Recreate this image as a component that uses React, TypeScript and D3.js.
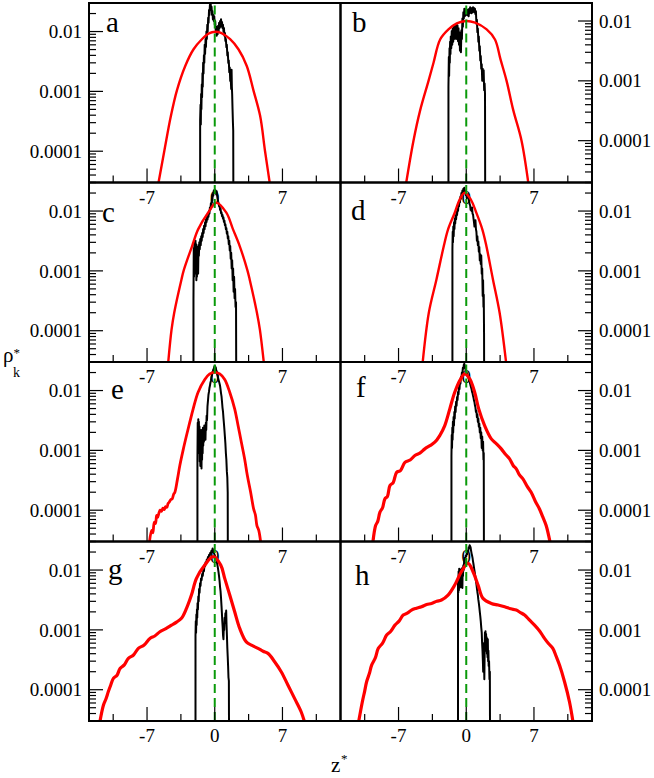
import React from 'react';
import * as d3 from 'd3';

type Pt = [number, number];

// ---------- axis definitions ----------
const xDomain: [number, number] = [-13, 13];
const xTickMajor = [-7, 0, 7];
const xTickMinor = [-10.5, -3.5, 3.5, 10.5];
const yTickLabelled = [0.0001, 0.001, 0.01];
const yTickText = ['0.0001', '0.001', '0.01'];
const yDomainMain: [number, number] = [3e-5, 3e-2];
const yDomainB: [number, number] = [2e-5, 2e-2];
const panelLetters = ['a', 'b', 'c', 'd', 'e', 'f', 'g', 'h'];

// ---------- data: [z*, rho*_k] ----------
const blackA: Pt[] = [[-1.51,1e-6],[-1.51,3.4e-4],[-1.47,6e-4],[-1.44,2.8e-4],[-1.41,9e-4],[-1.38,5e-4],[-1.34,1.3e-3],[-1.31,8e-4],[-1.27,2e-3],[-1.24,1.2e-3],[-1.2,3e-3],[-1.16,2e-3],[-1.12,4e-3],[-1.08,3e-3],[-1.04,6e-3],[-1.0,4.2e-3],[-0.95,7.5e-3],[-0.91,5.5e-3],[-0.86,1e-2],[-0.82,7.5e-3],[-0.77,1.3e-2],[-0.73,1e-2],[-0.68,1.7e-2],[-0.64,1.4e-2],[-0.59,2.3e-2],[-0.55,1.9e-2],[-0.5,2.8e-2],[-0.46,2.4e-2],[-0.42,2.9e-2],[-0.37,2.3e-2],[-0.33,2.6e-2],[-0.28,1.9e-2],[-0.24,2.2e-2],[-0.19,1.6e-2],[-0.14,1.9e-2],[-0.1,1.5e-2],[-0.05,1.8e-2],[0,1.3e-2],[0.05,1.5e-2],[0.1,1.05e-2],[0.15,1.2e-2],[0.2,8.5e-3],[0.25,1.1e-2],[0.3,9e-3],[0.35,1.25e-2],[0.4,1e-2],[0.45,1.4e-2],[0.5,1.15e-2],[0.55,1.5e-2],[0.6,1.2e-2],[0.65,1.6e-2],[0.7,1.25e-2],[0.75,1.45e-2],[0.8,1.15e-2],[0.85,1.3e-2],[0.9,1e-2],[0.95,1.15e-2],[1.0,8.5e-3],[1.05,9.5e-3],[1.1,7e-3],[1.15,7.5e-3],[1.2,5.5e-3],[1.25,6e-3],[1.3,4e-3],[1.35,4.5e-3],[1.4,3e-3],[1.45,3.3e-3],[1.5,2.1e-3],[1.55,2.5e-3],[1.6,1.5e-3],[1.65,1.7e-3],[1.7,1.1e-3],[1.74,2.3e-3],[1.77,1.2e-3],[1.8,9e-4],[1.84,5e-4],[1.88,3e-4],[1.91,2.2e-4],[1.94,1e-6]];
const redA: Pt[] = [[-5.9,2.5e-5],[-5.22,1e-4],[-4.53,3.9e-4],[-3.91,1.04e-3],[-3.05,2.66e-3],[-2.19,5.06e-3],[-1.33,7.44e-3],[-0.6,9.3e-3],[0.04,9.9e-3],[0.7,9.4e-3],[1.59,7.44e-3],[2.45,5.06e-3],[3.31,2.66e-3],[4.0,1.04e-3],[4.69,3.9e-4],[5.2,1e-4],[5.75,2.5e-5]];

const blackB: Pt[] = [[-1.84,1e-6],[-1.84,8e-4],[-1.8,2.5e-3],[-1.77,1.2e-3],[-1.73,3.5e-3],[-1.7,2.0e-3],[-1.67,4.5e-3],[-1.63,2.8e-3],[-1.6,5.5e-3],[-1.55,3.5e-3],[-1.5,6.8e-3],[-1.45,4.0e-3],[-1.4,7.5e-3],[-1.35,4.5e-3],[-1.3,8e-3],[-1.25,5e-3],[-1.2,8.5e-3],[-1.15,5.5e-3],[-1.1,8.2e-3],[-1.05,5.0e-3],[-1.0,8.8e-3],[-0.95,5.5e-3],[-0.9,8.4e-3],[-0.85,4.6e-3],[-0.8,7.6e-3],[-0.75,4.0e-3],[-0.7,6.5e-3],[-0.65,3.2e-3],[-0.6,5.5e-3],[-0.55,3.0e-3],[-0.5,7e-3],[-0.45,5e-3],[-0.4,1.1e-2],[-0.35,8e-3],[-0.3,1.4e-2],[-0.25,1.1e-2],[-0.2,1.6e-2],[-0.15,1.2e-2],[-0.1,1.5e-2],[-0.05,1.25e-2],[0,1.6e-2],[0.05,1.3e-2],[0.1,1.55e-2],[0.15,1.25e-2],[0.2,1.4e-2],[0.25,1.2e-2],[0.3,1.6e-2],[0.35,1.35e-2],[0.4,1.7e-2],[0.45,1.4e-2],[0.5,1.6e-2],[0.55,1.35e-2],[0.6,1.65e-2],[0.65,1.4e-2],[0.7,1.7e-2],[0.75,1.45e-2],[0.8,1.65e-2],[0.85,1.4e-2],[0.9,1.6e-2],[0.95,1.3e-2],[1.0,1.45e-2],[1.05,9e-3],[1.1,1.05e-2],[1.15,6.5e-3],[1.2,7.5e-3],[1.25,4.5e-3],[1.3,5.5e-3],[1.35,3.2e-3],[1.4,3.8e-3],[1.45,2.2e-3],[1.5,2.6e-3],[1.55,1.6e-3],[1.6,1.9e-3],[1.65,1.0e-3],[1.7,1.6e-3],[1.75,1.1e-3],[1.8,1.5e-3],[1.85,7e-4],[1.9,9e-4],[1.94,6e-4],[1.97,1e-6]];
const redB: Pt[] = [[-6.25,1.8e-5],[-5.45,1.01e-4],[-4.76,3.24e-4],[-3.9,1e-3],[-3.39,1.99e-3],[-2.7,4.91e-3],[-1.84,7.24e-3],[-0.98,9.14e-3],[-0.02,1e-2],[0.91,9.4e-3],[2.11,7.24e-3],[2.97,4.91e-3],[3.55,2.26e-3],[4.17,1e-3],[4.86,3.24e-4],[5.71,1.01e-4],[6.45,1.8e-5]];

const blackC: Pt[] = [[-2.2,1e-6],[-2.2,3.3e-4],[-2.17,2.4e-3],[-2.14,8e-4],[-2.11,3e-3],[-2.08,1e-3],[-2.05,2.6e-3],[-2.02,9e-4],[-1.99,3.2e-3],[-1.96,1.2e-3],[-1.93,2.8e-3],[-1.9,7e-4],[-1.87,2.2e-3],[-1.84,8e-4],[-1.81,2.5e-3],[-1.78,1.1e-3],[-1.75,2.3e-3],[-1.72,9e-4],[-1.68,2.7e-3],[-1.64,1.8e-3],[-1.6,3e-3],[-1.55,2.3e-3],[-1.5,3.4e-3],[-1.45,2.7e-3],[-1.4,3.8e-3],[-1.35,3.2e-3],[-1.3,4.3e-3],[-1.25,3.7e-3],[-1.2,5e-3],[-1.15,4.3e-3],[-1.1,5.7e-3],[-1.05,5e-3],[-1.0,6.5e-3],[-0.95,5.6e-3],[-0.9,7.3e-3],[-0.85,6.5e-3],[-0.8,8e-3],[-0.75,7.2e-3],[-0.7,8.8e-3],[-0.65,8e-3],[-0.6,1e-2],[-0.55,9e-3],[-0.5,1.15e-2],[-0.45,1.05e-2],[-0.4,1.35e-2],[-0.35,1.25e-2],[-0.3,1.6e-2],[-0.25,1.5e-2],[-0.2,1.9e-2],[-0.15,1.8e-2],[-0.1,2.2e-2],[-0.05,2e-2],[0,2.3e-2],[0.05,2e-2],[0.1,2.2e-2],[0.15,1.9e-2],[0.2,2.15e-2],[0.25,1.8e-2],[0.3,1.6e-2],[0.35,1.45e-2],[0.4,1.35e-2],[0.45,1.2e-2],[0.5,1.25e-2],[0.55,1.05e-2],[0.6,1.1e-2],[0.65,9.2e-3],[0.7,9.5e-3],[0.75,8.2e-3],[0.8,8.6e-3],[0.85,7.5e-3],[0.9,7.8e-3],[0.95,6.6e-3],[1.0,6.9e-3],[1.05,5.8e-3],[1.1,6e-3],[1.15,5e-3],[1.2,5.2e-3],[1.25,4.2e-3],[1.3,4.5e-3],[1.35,3.5e-3],[1.4,3.8e-3],[1.45,2.8e-3],[1.5,3.2e-3],[1.55,2.2e-3],[1.6,2.6e-3],[1.65,1.6e-3],[1.7,2e-3],[1.75,1.1e-3],[1.8,1.5e-3],[1.85,7e-4],[1.9,1.1e-3],[1.95,4.5e-4],[2.0,8e-4],[2.05,3.5e-4],[2.1,5e-4],[2.15,2.5e-4],[2.2,3e-4],[2.24,1e-6]];
const redC: Pt[] = [[-4.85,2.5e-5],[-4.47,1.03e-4],[-4.19,2e-4],[-3.44,7.2e-4],[-3.2,1.03e-3],[-2.34,2.6e-3],[-1.72,4.94e-3],[-0.69,9.38e-3],[0.17,1.38e-2],[1.2,9.38e-3],[1.89,4.94e-3],[2.58,2.6e-3],[3.37,1.03e-3],[3.61,7.2e-4],[4.36,2e-4],[4.67,1.03e-4],[5.12,2.5e-5]];

const blackD: Pt[] = [[-1.43,1e-6],[-1.43,2.3e-3],[-1.4,4.5e-3],[-1.37,3e-3],[-1.34,5.5e-3],[-1.3,3.8e-3],[-1.26,6.5e-3],[-1.22,5e-3],[-1.18,7.5e-3],[-1.14,6.2e-3],[-1.1,8.5e-3],[-1.05,7.3e-3],[-1.0,9.8e-3],[-0.95,8.6e-3],[-0.9,1.1e-2],[-0.85,1e-2],[-0.8,1.3e-2],[-0.75,1.2e-2],[-0.7,1.5e-2],[-0.65,1.4e-2],[-0.6,1.75e-2],[-0.55,1.6e-2],[-0.5,2e-2],[-0.45,1.85e-2],[-0.4,2.2e-2],[-0.35,2.05e-2],[-0.3,2.35e-2],[-0.25,2.2e-2],[-0.2,2.45e-2],[-0.15,2.1e-2],[-0.1,2.2e-2],[-0.05,1.85e-2],[0,1.95e-2],[0.05,1.65e-2],[0.1,1.8e-2],[0.15,1.75e-2],[0.2,1.9e-2],[0.25,1.55e-2],[0.3,1.5e-2],[0.35,1.3e-2],[0.4,1.25e-2],[0.45,1.05e-2],[0.5,1.1e-2],[0.55,1e-2],[0.6,1.15e-2],[0.65,9e-3],[0.7,8.8e-3],[0.75,7.5e-3],[0.8,6.5e-3],[0.85,5.5e-3],[0.9,6.5e-3],[0.95,7e-3],[1.0,5e-3],[1.05,4.5e-3],[1.1,3.2e-3],[1.15,3.8e-3],[1.2,2.7e-3],[1.25,3.1e-3],[1.3,2.1e-3],[1.35,2.5e-3],[1.4,1.5e-3],[1.45,1.9e-3],[1.5,1.3e-3],[1.55,1.8e-3],[1.6,9e-4],[1.65,1.1e-3],[1.7,3.8e-4],[1.74,7e-4],[1.78,2.5e-4],[1.81,4e-4],[1.84,9e-5],[1.87,1e-6]];
const redD: Pt[] = [[-4.55,2.5e-5],[-3.87,2e-4],[-3.08,7.2e-4],[-2.32,2.6e-3],[-1.88,4.94e-3],[-1.19,9.38e-3],[-0.67,1.57e-2],[-0.16,2.02e-2],[0.46,1.57e-2],[1.04,9.38e-3],[1.66,4.94e-3],[2.08,2.6e-3],[2.76,7.2e-4],[3.45,2e-4],[4.17,2.5e-5]];

const blackE: Pt[] = [[-1.79,1e-6],[-1.79,7e-4],[-1.76,2.9e-3],[-1.73,1.2e-3],[-1.7,3.3e-3],[-1.67,1.5e-3],[-1.64,3e-3],[-1.61,9e-4],[-1.58,2.5e-3],[-1.55,6.5e-4],[-1.52,2e-3],[-1.49,5.5e-4],[-1.46,1.8e-3],[-1.43,6e-4],[-1.4,2.2e-3],[-1.37,5e-4],[-1.34,1.9e-3],[-1.31,7e-4],[-1.28,2.1e-3],[-1.25,9e-4],[-1.22,2.4e-3],[-1.19,1.2e-3],[-1.16,2.2e-3],[-1.12,1.4e-3],[-1.08,2.6e-3],[-1.04,1.7e-3],[-1.0,2.3e-3],[-0.96,1.5e-3],[-0.92,2.9e-3],[-0.88,2.2e-3],[-0.84,3.8e-3],[-0.8,3.2e-3],[-0.75,5.5e-3],[-0.7,6.8e-3],[-0.65,8.5e-3],[-0.6,9.5e-3],[-0.55,1.1e-2],[-0.5,1.2e-2],[-0.45,1.35e-2],[-0.4,1.45e-2],[-0.35,1.65e-2],[-0.3,1.75e-2],[-0.25,1.95e-2],[-0.2,2.05e-2],[-0.15,2.25e-2],[-0.1,2.3e-2],[-0.05,2.5e-2],[0,2.6e-2],[0.05,2.4e-2],[0.1,2.45e-2],[0.15,2.2e-2],[0.2,2.1e-2],[0.25,1.85e-2],[0.3,1.75e-2],[0.35,1.6e-2],[0.4,1.5e-2],[0.45,1.4e-2],[0.5,1.3e-2],[0.55,1.2e-2],[0.6,1.05e-2],[0.65,9e-3],[0.7,8e-3],[0.75,6.5e-3],[0.8,5.2e-3],[0.85,4.5e-3],[0.9,3.5e-3],[0.95,2.8e-3],[1.0,2.2e-3],[1.05,1.7e-3],[1.1,1.3e-3],[1.15,9e-4],[1.2,7e-4],[1.25,4.5e-4],[1.3,3.5e-4],[1.34,2e-4],[1.37,1e-6]];
const redE: Pt[] = [[-6.8,2.5e-5],[-6.53,4.6e-5],[-6.4,4.2e-5],[-6.25,6.3e-5],[-6.12,6.0e-5],[-6.01,8.2e-5],[-5.9,7.6e-5],[-5.77,9.0e-5],[-5.64,1.0e-4],[-5.5,9.6e-5],[-5.36,1.08e-4],[-5.22,1.02e-4],[-5.08,1.15e-4],[-4.95,1.12e-4],[-4.82,1.3e-4],[-4.71,1.36e-4],[-4.55,1.5e-4],[-4.4,1.55e-4],[-4.25,1.85e-4],[-4.12,2e-4],[-3.85,3.34e-4],[-3.61,5.58e-4],[-3.26,1.03e-3],[-2.92,1.77e-3],[-2.58,2.96e-3],[-2.23,4.94e-3],[-1.72,9.38e-3],[-1.03,1.53e-2],[-0.52,1.9e-2],[0,2.02e-2],[0.52,1.9e-2],[1.03,1.53e-2],[1.55,9.38e-3],[2.06,4.94e-3],[2.41,2.6e-3],[2.75,1.37e-3],[3.09,7.2e-4],[3.37,3.79e-4],[3.71,2e-4],[4.02,1.05e-4],[4.2,8.4e-5],[4.36,5.54e-5],[4.55,4.6e-5],[4.8,2.5e-5]];

const blackF: Pt[] = [[-1.53,1e-6],[-1.53,8e-4],[-1.5,1.8e-3],[-1.47,1.1e-3],[-1.44,2.4e-3],[-1.41,1.5e-3],[-1.38,3e-3],[-1.35,2e-3],[-1.31,3.6e-3],[-1.27,2.6e-3],[-1.23,4.4e-3],[-1.19,3.4e-3],[-1.15,5.4e-3],[-1.1,4.4e-3],[-1.05,6.5e-3],[-1.0,5.6e-3],[-0.95,7.8e-3],[-0.9,7e-3],[-0.85,9.5e-3],[-0.8,8.6e-3],[-0.75,1.15e-2],[-0.7,1.05e-2],[-0.65,1.4e-2],[-0.6,1.3e-2],[-0.55,1.7e-2],[-0.5,1.6e-2],[-0.45,2e-2],[-0.4,1.9e-2],[-0.35,2.4e-2],[-0.3,2.3e-2],[-0.25,2.7e-2],[-0.2,2.8e-2],[-0.15,2.6e-2],[-0.1,2.4e-2],[-0.05,2.2e-2],[0,2.1e-2],[0.05,1.95e-2],[0.1,1.85e-2],[0.15,1.75e-2],[0.2,1.7e-2],[0.25,1.6e-2],[0.3,1.5e-2],[0.35,1.4e-2],[0.4,1.3e-2],[0.45,1.2e-2],[0.5,1.12e-2],[0.55,1.05e-2],[0.6,9.5e-3],[0.65,9e-3],[0.7,8.2e-3],[0.75,7.6e-3],[0.8,6.8e-3],[0.85,6.4e-3],[0.9,5.6e-3],[0.95,5.2e-3],[1.0,4.4e-3],[1.05,4.6e-3],[1.1,3.6e-3],[1.15,4e-3],[1.2,3e-3],[1.25,3.4e-3],[1.3,2.5e-3],[1.35,2.8e-3],[1.4,2e-3],[1.45,2.4e-3],[1.5,1.6e-3],[1.55,2e-3],[1.6,1.1e-3],[1.65,1.7e-3],[1.7,1e-3],[1.74,1.4e-3],[1.78,7e-4],[1.81,9e-4],[1.84,1e-6]];
const redF: Pt[] = [[-9.7,2.5e-5],[-9.37,5.54e-5],[-9.15,6.5e-5],[-8.92,9.27e-5],[-8.65,1.1e-4],[-8.41,1.55e-4],[-8.15,1.7e-4],[-7.89,2.58e-4],[-7.55,2.9e-4],[-7.2,4.3e-4],[-6.8,4.6e-4],[-6.34,6.3e-4],[-5.8,6.9e-4],[-5.31,8.2e-4],[-4.8,9.0e-4],[-4.28,1.06e-3],[-3.75,1.2e-3],[-3.25,1.37e-3],[-2.74,1.77e-3],[-2.22,2.6e-3],[-1.7,4.94e-3],[-1.19,9.38e-3],[-0.57,1.57e-2],[-0.16,1.9e-2],[0.36,1.57e-2],[0.87,9.38e-3],[1.29,4.94e-3],[1.9,2.6e-3],[2.59,1.56e-3],[3.1,1.3e-3],[3.62,1.06e-3],[4.05,8.6e-4],[4.48,7.2e-4],[4.85,5.6e-4],[5.17,4.91e-4],[5.5,3.9e-4],[5.86,3.34e-4],[6.3,2.5e-4],[6.71,2e-4],[7.15,1.4e-4],[7.57,1.05e-4],[7.9,7.8e-5],[8.26,5.54e-5],[8.75,2.5e-5]];

const blackG: Pt[] = [[-1.99,1e-6],[-1.99,8e-4],[-1.96,1.4e-3],[-1.93,9e-4],[-1.9,1.8e-3],[-1.87,1.2e-3],[-1.84,2.2e-3],[-1.81,1.6e-3],[-1.78,2.8e-3],[-1.74,2.2e-3],[-1.7,3.6e-3],[-1.66,3e-3],[-1.62,4.8e-3],[-1.57,4.2e-3],[-1.52,6e-3],[-1.47,5.4e-3],[-1.42,7.2e-3],[-1.36,6.8e-3],[-1.3,8.6e-3],[-1.24,8e-3],[-1.18,1e-2],[-1.12,9.6e-3],[-1.06,1.2e-2],[-1.0,1.15e-2],[-0.94,1.35e-2],[-0.88,1.3e-2],[-0.82,1.5e-2],[-0.76,1.45e-2],[-0.7,1.65e-2],[-0.64,1.6e-2],[-0.58,1.8e-2],[-0.52,1.75e-2],[-0.46,1.95e-2],[-0.4,1.9e-2],[-0.34,2.1e-2],[-0.28,2e-2],[-0.22,2.3e-2],[-0.16,2.1e-2],[-0.1,1.95e-2],[-0.04,1.85e-2],[0.02,1.75e-2],[0.08,1.65e-2],[0.14,1.5e-2],[0.2,1.4e-2],[0.26,1.25e-2],[0.32,1.1e-2],[0.38,9.5e-3],[0.44,8e-3],[0.5,6.5e-3],[0.55,5.2e-3],[0.6,4.4e-3],[0.65,3.4e-3],[0.7,2.5e-3],[0.74,1.9e-3],[0.78,1.4e-3],[0.82,1.1e-3],[0.86,8e-4],[0.9,7e-4],[0.94,1.2e-3],[0.98,1e-3],[1.02,1.6e-3],[1.06,1.3e-3],[1.1,1.9e-3],[1.14,1.5e-3],[1.18,2.1e-3],[1.22,1.2e-3],[1.26,8e-4],[1.3,5e-4],[1.34,3.6e-4],[1.38,2.5e-4],[1.42,1.6e-4],[1.46,1.4e-4],[1.5,1e-6]];
const redG: Pt[] = [[-11.95,2.5e-5],[-11.51,5.5e-5],[-11.25,7.0e-5],[-11.0,9.3e-5],[-10.75,1.2e-4],[-10.48,1.55e-4],[-10.1,1.75e-4],[-9.79,2.27e-4],[-9.35,2.6e-4],[-8.93,3.34e-4],[-8.4,3.8e-4],[-7.9,4.91e-4],[-7.3,5.6e-4],[-6.7,7.2e-4],[-6.2,7.9e-4],[-5.67,9.3e-4],[-5.05,1.05e-3],[-4.47,1.2e-3],[-3.95,1.35e-3],[-3.44,1.56e-3],[-2.92,2.29e-3],[-2.41,3.82e-3],[-1.89,7.26e-3],[-1.03,1.21e-2],[-0.17,1.67e-2],[0.62,1.21e-2],[1.03,7.26e-3],[1.55,3.82e-3],[2.06,2.01e-3],[2.58,1.06e-3],[3.26,6.3e-4],[3.85,5.5e-4],[4.47,4.91e-4],[5.0,4.4e-4],[5.5,4.05e-4],[6.19,2.94e-4],[6.87,2e-4],[7.56,1.2e-4],[8.25,7.16e-5],[8.93,4.28e-5],[9.4,2.5e-5]];

const blackH: Pt[] = [[-0.85,1e-6],[-0.85,7.3e-3],[-0.82,4.2e-3],[-0.79,9.5e-3],[-0.76,4.6e-3],[-0.73,1.05e-2],[-0.7,5e-3],[-0.67,9e-3],[-0.64,5.5e-3],[-0.61,1e-2],[-0.58,5.2e-3],[-0.55,9.5e-3],[-0.52,6e-3],[-0.49,1.05e-2],[-0.46,5.5e-3],[-0.43,9e-3],[-0.4,5e-3],[-0.37,1.1e-2],[-0.34,8e-3],[-0.3,1.2e-2],[-0.26,1e-2],[-0.22,1.4e-2],[-0.18,1.25e-2],[-0.14,1.6e-2],[-0.1,1.5e-2],[-0.05,1.75e-2],[0,1.7e-2],[0.05,1.9e-2],[0.1,1.85e-2],[0.15,2.1e-2],[0.2,2.05e-2],[0.25,2.4e-2],[0.3,2.3e-2],[0.35,2.6e-2],[0.4,2.5e-2],[0.45,2.4e-2],[0.5,2.1e-2],[0.55,1.9e-2],[0.6,1.75e-2],[0.65,1.6e-2],[0.7,1.4e-2],[0.75,1.25e-2],[0.8,1.1e-2],[0.85,9.8e-3],[0.9,8.6e-3],[0.95,7.6e-3],[1.0,6.6e-3],[1.05,5.8e-3],[1.1,5e-3],[1.15,4.3e-3],[1.2,3.8e-3],[1.25,3.2e-3],[1.3,2.8e-3],[1.35,2.4e-3],[1.4,2e-3],[1.45,1.7e-3],[1.5,1.4e-3],[1.55,1.1e-3],[1.6,9e-4],[1.64,6e-4],[1.68,4.5e-4],[1.72,3e-4],[1.75,2e-4],[1.78,4e-4],[1.81,6e-4],[1.84,3e-4],[1.87,1.5e-4],[1.9,4e-4],[1.93,9e-4],[1.96,6e-4],[1.99,9.5e-4],[2.02,5e-4],[2.05,8.5e-4],[2.08,4.5e-4],[2.11,7.5e-4],[2.14,4e-4],[2.17,6e-4],[2.2,3.5e-4],[2.23,7e-4],[2.26,3e-4],[2.29,4.5e-4],[2.32,2.5e-4],[2.36,3e-4],[2.4,1.5e-4],[2.44,2e-4],[2.48,1e-6]];
const redH: Pt[] = [[-11.2,2.5e-5],[-10.74,6.3e-5],[-10.5,9.5e-5],[-10.3,1.36e-4],[-10.0,1.9e-4],[-9.78,2.58e-4],[-9.4,3.4e-4],[-9.09,4.91e-4],[-8.65,6.0e-4],[-8.23,8.2e-4],[-7.8,9.5e-4],[-7.37,1.2e-3],[-6.95,1.4e-3],[-6.52,1.77e-3],[-6.1,1.9e-3],[-5.66,2.14e-3],[-5.15,2.3e-3],[-4.63,2.44e-3],[-4.1,2.65e-3],[-3.59,2.77e-3],[-3.05,3.0e-3],[-2.56,3.16e-3],[-1.88,3.82e-3],[-1.19,5.61e-3],[-0.5,9.38e-3],[0.19,1.29e-2],[0.7,9.38e-3],[1.22,5.61e-3],[1.73,3.36e-3],[2.59,2.77e-3],[3.3,2.6e-3],[3.97,2.44e-3],[4.6,2.25e-3],[5.17,2.14e-3],[5.6,1.95e-3],[6.03,1.77e-3],[6.55,1.45e-3],[7.06,1.2e-3],[7.6,9.5e-4],[8.09,7.2e-4],[8.5,5.9e-4],[8.95,4.91e-4],[9.3,3.6e-4],[9.64,2.58e-4],[10.16,1.36e-4],[10.67,6.3e-5],[11.1,2.5e-5]];

const blackSeries: Pt[][] = [blackA, blackB, blackC, blackD, blackE, blackF, blackG, blackH];
const redSeries: Pt[][] = [redA, redB, redC, redD, redE, redF, redG, redH];
const yDomains: [number, number][] = [yDomainMain, yDomainB, yDomainMain, yDomainMain, yDomainMain, yDomainMain, yDomainMain, yDomainMain];

// ---------- layout ----------
const W = 654;
const H = 778;
const colX = [89, 340.5, 592];
const rowY = [3, 182.5, 362, 541.5, 721];
const letterPos: [number, number][] = [[106, 29], [352, 29], [102, 39], [351, 37.5], [111, 37], [356, 35], [108, 37], [355, 43]];
const redWidth = [2.4, 2.4, 2.4, 2.4, 2.8, 3.2, 3.2, 3.2];
const FONT = 'Liberation Serif, DejaVu Serif, Times New Roman, serif';
const txt: React.CSSProperties = { fontFamily: FONT };

export default function App() {
  return (
    <div style={{ position: 'absolute', left: 0, top: 0 }}>
      <svg width={W} height={H} style={{ display: 'block', background: '#ffffff' }}>
        <defs>
          {panelLetters.map((_, i) => {
            const col = i % 2, row = Math.floor(i / 2);
            return (
              <clipPath id={`clip${i}`} key={i}>
                <rect x={colX[col]} y={rowY[row]} width={colX[col + 1] - colX[col]} height={rowY[row + 1] - rowY[row]} />
              </clipPath>
            );
          })}
        </defs>
        {panelLetters.map((letter, i) => {
          const col = i % 2, row = Math.floor(i / 2);
          const x0 = colX[col], x1 = colX[col + 1];
          const y0 = rowY[row], y1 = rowY[row + 1];
          const xs = d3.scaleLinear().domain(xDomain).range([x0, x1]);
          const ys = d3.scaleLog().domain(yDomains[i]).range([y1, y0]);
          const lineLin = d3.line<Pt>().x(d => xs(d[0])).y(d => ys(d[1]));
          const lineSmooth = d3.line<Pt>().x(d => xs(d[0])).y(d => ys(d[1])).curve(d3.curveCatmullRom.alpha(0.5));
          const yTicks = ys.ticks();
          const isLeft = col === 0;
          const axisX = isLeft ? x0 : x1;
          const dir = isLeft ? 1 : -1;
          return (
            <g key={letter}>
              <g clipPath={`url(#clip${i})`}>
                <path d={lineLin(blackSeries[i]) || ''} fill="none" stroke="#000" strokeWidth={2} strokeLinejoin="round" />
                <path d={lineSmooth(redSeries[i]) || ''} fill="none" stroke="#ff0000" strokeWidth={redWidth[i]} strokeLinejoin="round" />
                <line x1={xs(0)} x2={xs(0)} y1={y1} y2={y0} stroke="#0a9a0a" strokeWidth={2} strokeDasharray="9,5" />
              </g>
              {xTickMajor.map(t => (
                <line key={`xM${t}`} x1={xs(t)} x2={xs(t)} y1={y1} y2={y1 - 14} stroke="#000" strokeWidth={1.2} />
              ))}
              {xTickMinor.map(t => (
                <line key={`xm${t}`} x1={xs(t)} x2={xs(t)} y1={y1} y2={y1 - 7} stroke="#000" strokeWidth={1.2} />
              ))}
              {yTicks.map((t, k) => {
                const major = yTickLabelled.some(v => Math.abs(v - t) / v < 1e-6);
                return (
                  <line key={`y${k}`} x1={axisX} x2={axisX + dir * (major ? 14 : 7)} y1={ys(t)} y2={ys(t)} stroke="#000" strokeWidth={1.2} />
                );
              })}
              <rect x={x0} y={y0} width={x1 - x0} height={y1 - y0} fill="none" stroke="#000" strokeWidth={2} />
              {xTickMajor.map(t => (
                <text key={`xl${t}`} x={xs(t)} y={y1 + 21} textAnchor="middle" fontSize={19} fill="#000" style={txt}>{String(t)}</text>
              ))}
              {yTickLabelled.map((t, k) => (
                <text key={`yl${k}`} x={isLeft ? x0 - 7 : x1 + 7} y={ys(t)} dy="0.35em" textAnchor={isLeft ? 'end' : 'start'} fontSize={19} fill="#000" style={txt}>{yTickText[k]}</text>
              ))}
              <text x={letterPos[i][0]} y={y0 + letterPos[i][1]} fontSize={29} fill="#000" style={txt}>{letter}</text>
            </g>
          );
        })}
        <text x={3} y={362} fontSize={21} fill="#000" style={txt}>ρ</text>
        <text x={13.5} y={357} fontSize={13} fill="#000" style={txt}>*</text>
        <text x={13} y={376.5} fontSize={14} fill="#000" style={txt}>k</text>
        <text x={331} y={772} fontSize={21} fill="#000" style={txt}>z</text>
        <text x={341} y={763} fontSize={13} fill="#000" style={txt}>*</text>
      </svg>
    </div>
  );
}
